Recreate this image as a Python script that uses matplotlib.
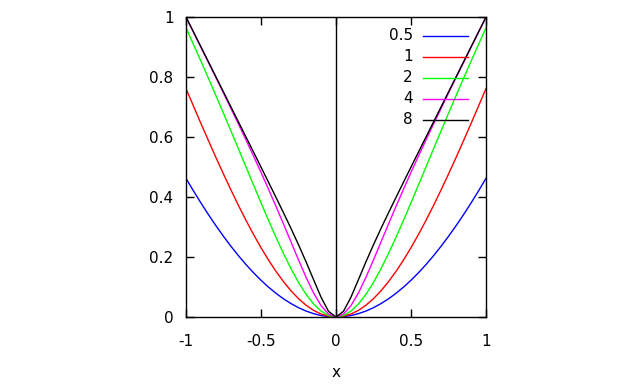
import matplotlib
matplotlib.use("Agg")
import matplotlib.pyplot as plt

x = [-1.0, -0.95, -0.9, -0.85, -0.8, -0.75, -0.7, -0.65, -0.6, -0.55, -0.5,
     -0.45, -0.4, -0.35, -0.3, -0.25, -0.2, -0.15, -0.1, -0.05, 0.0,
     0.05, 0.1, 0.15, 0.2, 0.25, 0.3, 0.35, 0.4, 0.45, 0.5,
     0.55, 0.6, 0.65, 0.7, 0.75, 0.8, 0.85, 0.9, 0.95, 1.0]

y_05 = [0.46212, 0.42014, 0.37971, 0.34096, 0.30396, 0.26876, 0.23547, 0.20412, 0.17479, 0.14756, 0.12246,
        0.09958, 0.07895, 0.06063, 0.04467, 0.03109, 0.01993, 0.01123, 0.00500, 0.00125, 0.0,
        0.00125, 0.00500, 0.01123, 0.01993, 0.03109, 0.04467, 0.06063, 0.07895, 0.09958, 0.12246,
        0.14756, 0.17479, 0.20412, 0.23547, 0.26876, 0.30396, 0.34096, 0.37971, 0.42014, 0.46212]
y_1 = [0.76159, 0.70279, 0.64467, 0.58741, 0.53123, 0.47636, 0.42306, 0.37159, 0.32223, 0.27529, 0.23106,
       0.18986, 0.15198, 0.11773, 0.08739, 0.06123, 0.03948, 0.02233, 0.00997, 0.00250, 0.0,
       0.00250, 0.00997, 0.02233, 0.03948, 0.06123, 0.08739, 0.11773, 0.15198, 0.18986, 0.23106,
       0.27529, 0.32223, 0.37159, 0.42306, 0.47636, 0.53123, 0.58741, 0.64467, 0.70279, 0.76159]
y_2 = [0.96403, 0.90843, 0.85213, 0.79510, 0.73734, 0.67886, 0.61975, 0.56012, 0.50019, 0.44028, 0.38080,
       0.32234, 0.26562, 0.21153, 0.16112, 0.11553, 0.07599, 0.04370, 0.01974, 0.00498, 0.0,
       0.00498, 0.01974, 0.04370, 0.07599, 0.11553, 0.16112, 0.21153, 0.26562, 0.32234, 0.38080,
       0.44028, 0.50019, 0.56012, 0.61975, 0.67886, 0.73734, 0.79510, 0.85213, 0.90843, 0.96403]
y_4 = [0.99933, 0.94905, 0.89866, 0.84811, 0.79734, 0.74629, 0.69484, 0.64287, 0.59020, 0.53666, 0.48201,
       0.42606, 0.36867, 0.30987, 0.25010, 0.19040, 0.13281, 0.08056, 0.03800, 0.00987, 0.0,
       0.00987, 0.03800, 0.08056, 0.13281, 0.19040, 0.25010, 0.30987, 0.36867, 0.42606, 0.48201,
       0.53666, 0.59020, 0.64287, 0.69484, 0.74629, 0.79734, 0.84811, 0.89866, 0.94905, 0.99933]
y_8 = [1.0, 0.95, 0.9, 0.85, 0.8, 0.75, 0.69999, 0.64997, 0.59993, 0.54984, 0.49966,
       0.44933, 0.39867, 0.34742, 0.29510, 0.24101, 0.18433, 0.12505, 0.06640, 0.01900, 0.0,
       0.01900, 0.06640, 0.12505, 0.18433, 0.24101, 0.29510, 0.34742, 0.39867, 0.44933, 0.49966,
       0.54984, 0.59993, 0.64997, 0.69999, 0.75, 0.8, 0.85, 0.9, 0.95, 1.0]

labels = ["0.5", "1", "2", "4", "8"]
series = [y_05, y_1, y_2, y_4, y_8]
colors = ["#0000ff", "#ff0000", "#00ff00", "#ff00ff", "#000000"]

xticks = [-1, -0.5, 0, 0.5, 1]
xticklabels = ["-1", "-0.5", "0", "0.5", "1"]
yticks = [0, 0.2, 0.4, 0.6, 0.8, 1]
yticklabels = ["0", "0.2", "0.4", "0.6", "0.8", "1"]

plt.rcParams['font.family'] = ['DejaVu Sans']
fig = plt.figure(figsize=(6.4, 3.84), dpi=100)
ax = fig.add_axes([186/640, 67/384, 300/640, 300/384])

ax.axvline(0, color="black", lw=1.0, zorder=1)
for ys, c in zip(series, colors):
    ax.plot(x, ys, color=c, lw=1.0, zorder=2)

# legend drawn manually (gnuplot style)
leg_y = [0.937, 0.867, 0.797, 0.727, 0.657]
for lab, c, yy in zip(labels, colors, leg_y):
    ax.text(0.513, yy, lab, ha="right", va="center", fontsize=11)
    ax.plot([0.58, 0.88], [yy, yy], color=c, lw=1.0)

ax.set_xlim(-1, 1)
ax.set_ylim(0, 1)
ax.set_xticks(xticks)
ax.set_xticklabels(xticklabels)
ax.set_yticks(yticks)
ax.set_yticklabels(yticklabels)
ax.tick_params(axis="x", direction="in", length=6, width=1, top=True,
               labelsize=11, pad=12)
ax.tick_params(axis="y", direction="in", length=6, width=1, right=True,
               labelsize=11, pad=9)
for s in ax.spines.values():
    s.set_linewidth(1.0)
ax.set_xlabel("x", fontsize=11, labelpad=12)

fig.savefig("out.png", dpi=100)
